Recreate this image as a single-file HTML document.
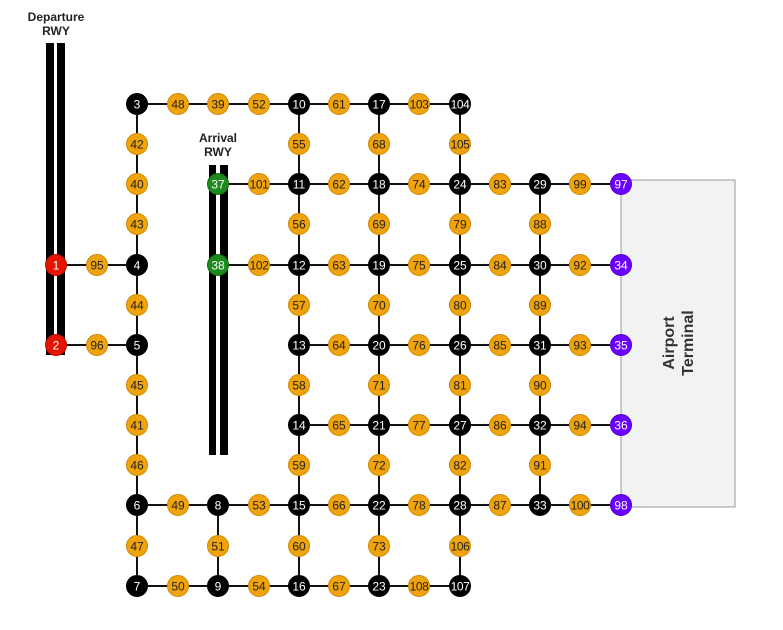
<!DOCTYPE html>
<html><head><meta charset="utf-8"><style>
body{margin:0;background:#fff;font-family:"Liberation Sans",sans-serif}
svg{display:block}
</style></head><body>
<svg id="c" width="783" height="630" viewBox="0 0 783 630">
<rect x="621" y="180" width="114" height="327" fill="#f2f2f2" stroke="#999" stroke-width="1"/>
<text transform="translate(678,343) rotate(-90)" text-anchor="middle" font-size="16" font-weight="bold" fill="#333"><tspan x="0" dy="-4">Airport</tspan><tspan x="0" dy="19">Terminal</tspan></text>
<rect x="46" y="43" width="8" height="312" fill="#000"/>
<rect x="57" y="43" width="8" height="312" fill="#000"/>
<rect x="209" y="165" width="7" height="290" fill="#000"/>
<rect x="220" y="165" width="8" height="290" fill="#000"/>
<text x="56" y="21" text-anchor="middle" font-size="12" font-weight="bold" fill="#222"><tspan x="56">Departure</tspan><tspan x="56" dy="14">RWY</tspan></text>
<text x="218" y="142" text-anchor="middle" font-size="12" font-weight="bold" fill="#222"><tspan x="218">Arrival</tspan><tspan x="218" dy="14">RWY</tspan></text>
<g id="edges"></g><g id="nodes"></g>
</svg>
<script>
const colX=[56,97,137,178,218,259,299,339,379,419,460,500,540,580,621];
const rowY=[104,144,184,224,265,305,345,385,425,465,505,546,586];
// [id, col, row, type] type: b black, o orange, r red, g green, p purple
const nodes=[
[1,0,4,'r'],[2,0,6,'r'],[95,1,4,'o'],[96,1,6,'o'],
[3,2,0,'b'],[42,2,1,'o'],[40,2,2,'o'],[43,2,3,'o'],[4,2,4,'b'],[44,2,5,'o'],[5,2,6,'b'],[45,2,7,'o'],[41,2,8,'o'],[46,2,9,'o'],[6,2,10,'b'],[47,2,11,'o'],[7,2,12,'b'],
[48,3,0,'o'],[49,3,10,'o'],[50,3,12,'o'],
[39,4,0,'o'],[37,4,2,'g'],[38,4,4,'g'],[8,4,10,'b'],[51,4,11,'o'],[9,4,12,'b'],
[52,5,0,'o'],[101,5,2,'o'],[102,5,4,'o'],[53,5,10,'o'],[54,5,12,'o'],
[10,6,0,'b'],[55,6,1,'o'],[11,6,2,'b'],[56,6,3,'o'],[12,6,4,'b'],[57,6,5,'o'],[13,6,6,'b'],[58,6,7,'o'],[14,6,8,'b'],[59,6,9,'o'],[15,6,10,'b'],[60,6,11,'o'],[16,6,12,'b'],
[61,7,0,'o'],[62,7,2,'o'],[63,7,4,'o'],[64,7,6,'o'],[65,7,8,'o'],[66,7,10,'o'],[67,7,12,'o'],
[17,8,0,'b'],[68,8,1,'o'],[18,8,2,'b'],[69,8,3,'o'],[19,8,4,'b'],[70,8,5,'o'],[20,8,6,'b'],[71,8,7,'o'],[21,8,8,'b'],[72,8,9,'o'],[22,8,10,'b'],[73,8,11,'o'],[23,8,12,'b'],
[103,9,0,'o'],[74,9,2,'o'],[75,9,4,'o'],[76,9,6,'o'],[77,9,8,'o'],[78,9,10,'o'],[108,9,12,'o'],
[104,10,0,'b'],[105,10,1,'o'],[24,10,2,'b'],[79,10,3,'o'],[25,10,4,'b'],[80,10,5,'o'],[26,10,6,'b'],[81,10,7,'o'],[27,10,8,'b'],[82,10,9,'o'],[28,10,10,'b'],[106,10,11,'o'],[107,10,12,'b'],
[83,11,2,'o'],[84,11,4,'o'],[85,11,6,'o'],[86,11,8,'o'],[87,11,10,'o'],
[29,12,2,'b'],[88,12,3,'o'],[30,12,4,'b'],[89,12,5,'o'],[31,12,6,'b'],[90,12,7,'o'],[32,12,8,'b'],[91,12,9,'o'],[33,12,10,'b'],
[99,13,2,'o'],[92,13,4,'o'],[93,13,6,'o'],[94,13,8,'o'],[100,13,10,'o'],
[97,14,2,'p'],[34,14,4,'p'],[35,14,6,'p'],[36,14,8,'p'],[98,14,10,'p']
];
const chains=[
[3,48,39,52,10,61,17,103,104],[3,42,40,43,4,44,5,45,41,46,6,47,7],[1,95,4],[2,96,5],
[37,101,11,62,18,74,24,83,29,99,97],[38,102,12,63,19,75,25,84,30,92,34],
[13,64,20,76,26,85,31,93,35],[14,65,21,77,27,86,32,94,36],
[6,49,8,53,15,66,22,78,28,87,33,100,98],[7,50,9,54,16,67,23,108,107],[8,51,9],
[10,55,11,56,12,57,13,58,14,59,15,60,16],[17,68,18,69,19,70,20,71,21,72,22,73,23],
[104,105,24,79,25,80,26,81,27,82,28,106,107],[29,88,30,89,31,90,32,91,33]
];
const NS='http://www.w3.org/2000/svg';
const pos={};nodes.forEach(n=>pos[n[0]]=[colX[n[1]],rowY[n[2]]]);
const eg=document.getElementById('edges'),ng=document.getElementById('nodes');
chains.forEach(ch=>{for(let i=0;i<ch.length-1;i++){const a=pos[ch[i]],b=pos[ch[i+1]];
const l=document.createElementNS(NS,'line');
l.setAttribute('x1',a[0]);l.setAttribute('y1',a[1]);l.setAttribute('x2',b[0]);l.setAttribute('y2',b[1]);
l.setAttribute('stroke','#111');l.setAttribute('stroke-width','2');


eg.appendChild(l);}});
const fill={b:'#000',o:'#f0a30a',r:'#e51400',g:'#1c8a1c',p:'#6a00ff'};
const stroke={b:'#000',o:'#c98a0a',r:'#b01000',g:'#136b13',p:'#5000c8'};
nodes.forEach(n=>{const p=pos[n[0]];const g=document.createElementNS(NS,'g');


const c=document.createElementNS(NS,'circle');c.setAttribute('cx',p[0]);c.setAttribute('cy',p[1]);c.setAttribute('r','10.5');
c.setAttribute('fill',fill[n[3]]);c.setAttribute('stroke',stroke[n[3]]);c.setAttribute('stroke-width','1');
const t=document.createElementNS(NS,'text');t.setAttribute('x',p[0]);t.setAttribute('y',p[1]+4.3);t.setAttribute('text-anchor','middle');
t.setAttribute('font-size','12');if(n[0]>99)t.setAttribute('letter-spacing','-0.4');
t.setAttribute('fill',n[3]==='o'?'#222':'#fff');t.textContent=n[0];
g.appendChild(c);g.appendChild(t);ng.appendChild(g);});
</script>
</body></html>
